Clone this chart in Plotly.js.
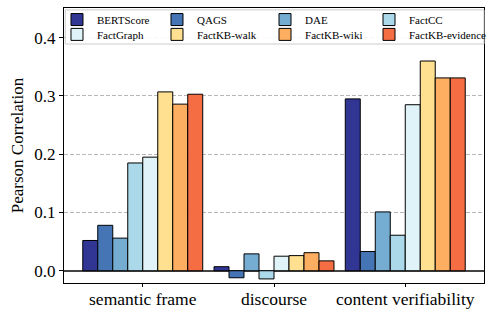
<!DOCTYPE html>
<html>
<head>
<meta charset="utf-8">
<script src="https://cdn.plot.ly/plotly-3.0.1.min.js"></script>
<style>html,body{margin:0;padding:0;background:#fff;}#chart{width:486px;height:309px;}</style>
</head>
<body>
<div id="chart"></div>
<script>
const categories = ["semantic frame", "discourse", "content verifiability"];
const seriesNames = ["BERTScore", "QAGS", "DAE", "FactCC", "FactGraph", "FactKB-walk", "FactKB-wiki", "FactKB-evidence"];
const BERTScore = [0.052, 0.007, 0.295];
const QAGS = [0.078, -0.012, 0.033];
const DAE = [0.056, 0.029, 0.101];
const FactCC = [0.185, -0.014, 0.061];
const FactGraph = [0.195, 0.025, 0.285];
const FactKBwalk = [0.307, 0.026, 0.360];
const FactKBwiki = [0.286, 0.031, 0.331];
const FactKBevidence = [0.303, 0.017, 0.331];
const seriesValues = [BERTScore, QAGS, DAE, FactCC, FactGraph, FactKBwalk, FactKBwiki, FactKBevidence];
const colors = ["#313695", "#4575b4", "#74add1", "#abd9e9", "#e0f3f8", "#fee090", "#fdae61", "#f46d43"];
const yTicks = [0.0, 0.1, 0.2, 0.3, 0.4];

const font = "Liberation Serif";
const legendIds = ["legend", "legend2", "legend3", "legend4", "legend5", "legend6", "legend7", "legend8"];
const traces = seriesNames.map((n, i) => ({
  type: "bar",
  name: n,
  x: [0, 1, 2],
  y: seriesValues[i],
  legend: legendIds[i],
  marker: {color: colors[i], line: {color: "#000", width: 1}}
}));

// legend layout: 4 columns x 2 rows, positioned in the plot area
const colX = [-0.0167, 0.2214, 0.4786, 0.7262];
const rowY = [0.958, 0.904];

const layout = {
  width: 486, height: 309,
  margin: {l: 64, r: 2, t: 8, b: 26, autoexpand: false},
  paper_bgcolor: "#fff", plot_bgcolor: "#fff",
  font: {family: font, color: "#000"},
  barmode: "group",
  bargap: 0.086,
  bargroupgap: 0,
  showlegend: true,
  shapes: [{
    type: "rect", xref: "paper", yref: "paper", layer: "above",
    x0: 0.003, x1: 1.0, y0: 0.869, y1: 0.993,
    fillcolor: "rgba(255,255,255,0.9)", line: {color: "#cccccc", width: 1}
  }],
  xaxis: {
    tickmode: "array", tickvals: [0, 1, 2], ticktext: categories,
    range: [-0.6, 2.6],
    showline: true, linecolor: "#000", linewidth: 1, mirror: true,
    ticks: "outside", ticklen: 3, tickcolor: "#000",
    ticklabelstandoff: -3,
    tickfont: {family: font, size: 17.5},
    showgrid: false, zeroline: false, automargin: false
  },
  yaxis: {
    range: [-0.021, 0.451],
    tickmode: "array", tickvals: yTicks, ticktext: yTicks.map(v => v.toFixed(1)),
    showline: true, linecolor: "#000", linewidth: 1, mirror: true,
    ticks: "outside", ticklen: 4, tickcolor: "#000",
    tickfont: {family: font, size: 17},
    showgrid: true, gridcolor: "#b8b8b8", griddash: "4px,2px", gridwidth: 1,
    zeroline: true, zerolinecolor: "#444", zerolinewidth: 1.5,
    automargin: false,
    title: {text: "Pearson Correlation", font: {family: font, size: 17}, standoff: 6}
  }
};
legendIds.forEach((id, i) => {
  layout[id] = {
    x: colX[i % 4], y: rowY[Math.floor(i / 4)],
    xanchor: "left", yanchor: "middle",
    bgcolor: "rgba(0,0,0,0)", borderwidth: 0,
    font: {family: font, size: 11}
  };
});

Plotly.newPlot("chart", traces, layout, {displayModeBar: false, staticPlot: true});
</script>
</body>
</html>
